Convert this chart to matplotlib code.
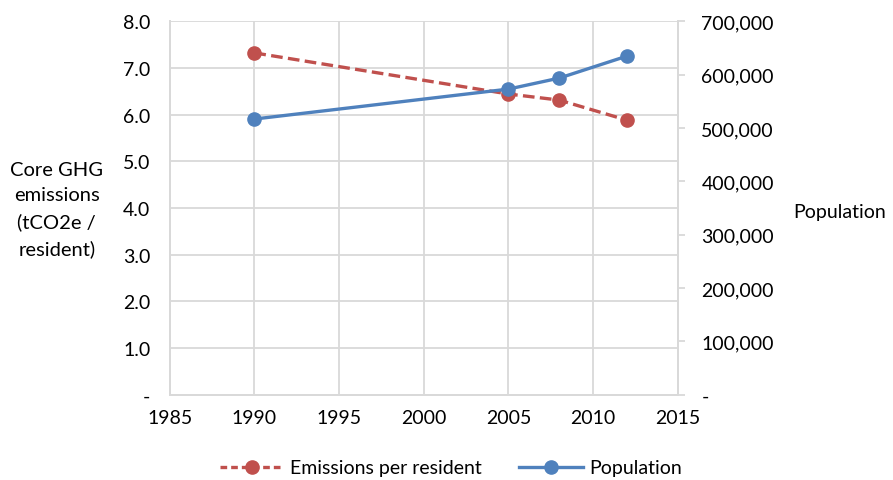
import matplotlib.pyplot as plt
from matplotlib.ticker import FuncFormatter
from matplotlib.lines import Line2D

years = [1990, 2005, 2008, 2012]
emissions_per_resident = [7.32, 6.44, 6.31, 5.88]
population = [516600, 572700, 593300, 634500]

red = '#C0504D'
blue = '#4F81BD'
grid_col = '#D9D9D9'

plt.rcParams['font.family'] = ['Lato', 'DejaVu Sans']
plt.rcParams['font.size'] = 14

fig = plt.figure(figsize=(8.93, 4.81), dpi=100)
ax = fig.add_axes([0.190, 0.177, 0.569, 0.777])
ax2 = ax.twinx()

ax.set_xlim(1985, 2015)
ax.set_ylim(0, 8)
ax.set_xticks(range(1985, 2016, 5))
ax.set_yticks([i for i in range(9)])
ax.yaxis.set_major_formatter(FuncFormatter(lambda v, p: '-' if v == 0 else f'{v:.1f}'))
ax.grid(True, color=grid_col, lw=1.3)
ax.set_axisbelow(True)
ax.tick_params(axis='y', length=0, pad=14)
ax.tick_params(axis='x', length=0, pad=10)

ax.plot(years, emissions_per_resident, color=red, lw=2.4, dashes=(3.5, 1.6),
        marker='o', ms=9.5, zorder=3)

ax2.set_ylim(0, 700000)
ax2.set_yticks(range(0, 700001, 100000))
ax2.yaxis.set_major_formatter(FuncFormatter(lambda v, p: '-' if v == 0 else f'{int(v):,}'))
ax2.tick_params(axis='y', length=5, color=grid_col, pad=12, width=1.3)
ax2.plot(years, population, color=blue, lw=2.4, marker='o', ms=9.5, zorder=4)

for a in (ax, ax2):
    for s in a.spines.values():
        s.set_color(grid_col)
        s.set_linewidth(1.3)
    a.spines['top'].set_visible(False)

ax.set_ylabel('Core GHG\nemissions\n(tCO2e /\nresident)', rotation=0,
              ha='center', va='center', labelpad=0, linespacing=1.6, fontsize=14.5)
ax.yaxis.set_label_coords(-0.222, 0.497)
ax2.set_ylabel('Population', rotation=0, ha='center', va='center')
ax2.yaxis.set_label_coords(1.318, 0.49)

handles = [
    Line2D([], [], color=red, lw=2.4, dashes=(2.0, 1.2), marker='o', ms=9.5),
    Line2D([], [], color=blue, lw=2.4, marker='o', ms=9.5),
]
fig.legend(handles, ['Emissions per resident', 'Population'], loc='center',
           bbox_to_anchor=(0.505, 0.025), ncol=2, frameon=False,
           handlelength=3.3, columnspacing=1.9, handletextpad=0.3)

fig.savefig('out.png', dpi=100)
